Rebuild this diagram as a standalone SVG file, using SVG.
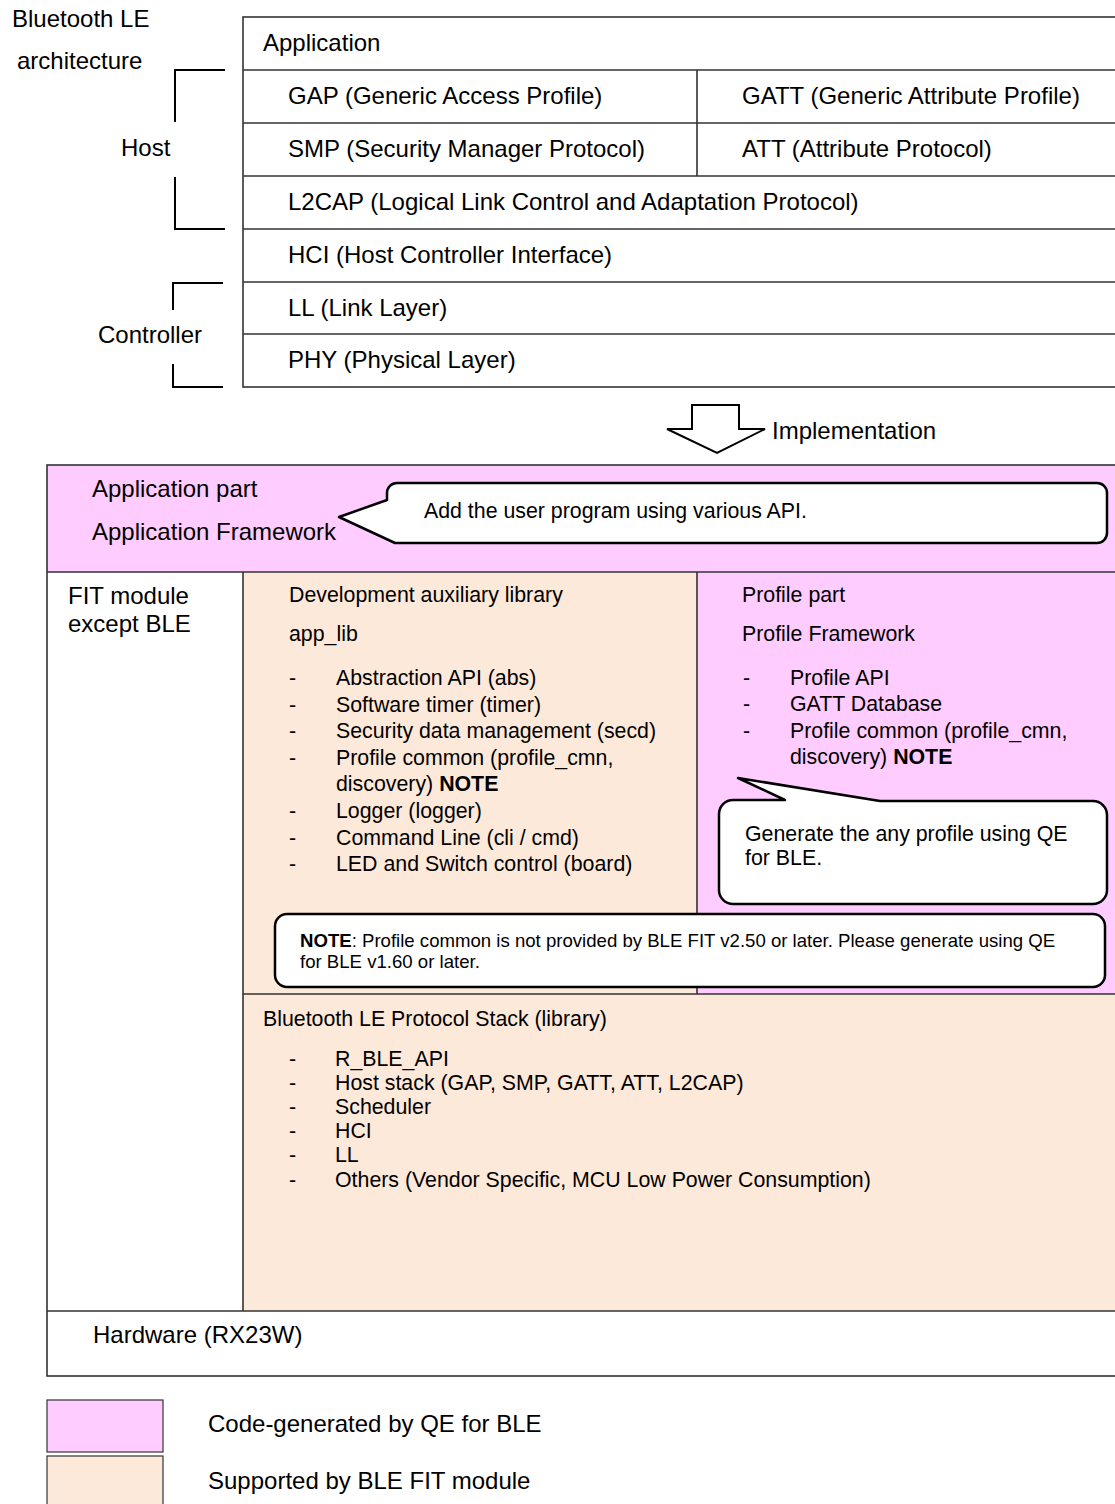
<svg xmlns="http://www.w3.org/2000/svg" width="1115" height="1504" viewBox="0 0 1115 1504">
  <style>
    text { font-family: "Liberation Sans", Arial, sans-serif; fill: #000; }
    .t24 { font-size: 24px; }
    .t21 { font-size: 21.33px; }
    .t16 { font-size: 18.6px; }
    .b { font-weight: bold; }
    .grid { fill: none; stroke: #333; stroke-width: 1.6; }
    .pink { fill: #FFCCFF; }
    .beige { fill: #FDE9D9; }
    .bubble { fill: #fff; stroke: #000; stroke-width: 2.5; stroke-linejoin: round; }
    .bracket { fill: none; stroke: #000; stroke-width: 2; }
    .legend { stroke: #333; stroke-width: 1.2; }
  </style>

  <rect width="1115" height="1504" fill="#fff"/>

  <!-- Title -->
  <g id="title">
    <text class="t24" x="12" y="27">Bluetooth LE</text>
    <text class="t24" x="17" y="69">architecture</text>
  </g>

  <!-- Layered architecture stack -->
  <g id="arch-stack">
    <rect class="grid" x="243" y="17" width="890" height="370" fill="#fff"/>
    <path class="grid" d="M243 70H1115M243 123H1115M243 176H1115M243 229H1115M243 282H1115M243 334H1115M697 70V176"/>
    <text class="t24" x="263" y="51">Application</text>
    <text class="t24" x="288" y="104">GAP (Generic Access Profile)</text>
    <text class="t24" x="742" y="104">GATT (Generic Attribute Profile)</text>
    <text class="t24" x="288" y="157">SMP (Security Manager Protocol)</text>
    <text class="t24" x="742" y="157">ATT (Attribute Protocol)</text>
    <text class="t24" x="288" y="210">L2CAP (Logical Link Control and Adaptation Protocol)</text>
    <text class="t24" x="288" y="263">HCI (Host Controller Interface)</text>
    <text class="t24" x="288" y="316">LL (Link Layer)</text>
    <text class="t24" x="288" y="368">PHY (Physical Layer)</text>
  </g>

  <g id="host-label">
    <text class="t24" x="121" y="156">Host</text>
  </g>
  <g id="controller-label">
    <text class="t24" x="98" y="343">Controller</text>
  </g>

  <!-- Brackets and the implementation arrow -->
  <g id="connectors">
    <path class="bracket" d="M225 70H175V122M175 177V229H225"/>
    <path class="bracket" d="M223 283H173V310M173 364V387H223"/>
    <path d="M692 405H739V429H765L717 453L667 429H692Z" fill="#fff" stroke="#000" stroke-width="2" stroke-linejoin="miter"/>
    <text class="t24" x="772" y="439">Implementation</text>
  </g>

  <!-- Implementation block -->
  <g id="impl-frame">
    <rect x="47" y="465" width="1080" height="911" fill="#fff"/>
    <rect class="pink" x="47" y="465" width="1080" height="107"/>
    <rect class="beige" x="243" y="572" width="454" height="422"/>
    <rect class="pink" x="697" y="572" width="430" height="422"/>
    <rect class="beige" x="243" y="994" width="884" height="317"/>
    <rect class="grid" x="47" y="465" width="1090" height="911"/>
    <path class="grid" d="M47 572H1115M243 572V1311M697 572V994M243 994H1115M47 1311H1115"/>
  </g>

  <g id="application-part">
    <text class="t24" x="92" y="497">Application part</text>
    <text class="t24" x="92" y="540">Application Framework</text>
  </g>

  <g id="fit-other">
    <text class="t24" x="68" y="604">FIT module</text>
    <text class="t24" x="68" y="632">except BLE</text>
  </g>

  <g id="dev-library">
    <text class="t21" x="289" y="602">Development auxiliary library</text>
    <text class="t21" x="289" y="641">app_lib</text>
    <g class="t21">
      <text x="289" y="685">-</text><text x="336" y="685">Abstraction API (abs)</text>
      <text x="289" y="712">-</text><text x="336" y="712">Software timer (timer)</text>
      <text x="289" y="738">-</text><text x="336" y="738">Security data management (secd)</text>
      <text x="289" y="765">-</text><text x="336" y="765">Profile common (profile_cmn,</text>
      <text x="336" y="791">discovery) <tspan class="b">NOTE</tspan></text>
      <text x="289" y="818">-</text><text x="336" y="818">Logger (logger)</text>
      <text x="289" y="845">-</text><text x="336" y="845">Command Line (cli / cmd)</text>
      <text x="289" y="871">-</text><text x="336" y="871">LED and Switch control (board)</text>
    </g>
  </g>

  <g id="profile-part">
    <text class="t21" x="742" y="602">Profile part</text>
    <text class="t21" x="742" y="641">Profile Framework</text>
    <g class="t21">
      <text x="743" y="685">-</text><text x="790" y="685">Profile API</text>
      <text x="743" y="711">-</text><text x="790" y="711">GATT Database</text>
      <text x="743" y="738">-</text><text x="790" y="738">Profile common (profile_cmn,</text>
      <text x="790" y="764">discovery) <tspan class="b">NOTE</tspan></text>
    </g>
  </g>

  <g id="protocol-stack">
    <text class="t21" x="263" y="1026">Bluetooth LE Protocol Stack (library)</text>
    <g class="t21">
      <text x="289" y="1066">-</text><text x="335" y="1066">R_BLE_API</text>
      <text x="289" y="1090">-</text><text x="335" y="1090">Host stack (GAP, SMP, GATT, ATT, L2CAP)</text>
      <text x="289" y="1114">-</text><text x="335" y="1114">Scheduler</text>
      <text x="289" y="1138">-</text><text x="335" y="1138">HCI</text>
      <text x="289" y="1162">-</text><text x="335" y="1162">LL</text>
      <text x="289" y="1187">-</text><text x="335" y="1187">Others (Vendor Specific, MCU Low Power Consumption)</text>
    </g>
  </g>

  <g id="hardware">
    <text class="t24" x="93" y="1343">Hardware (RX23W)</text>
  </g>

  <!-- Callouts -->
  <g id="callout-app">
    <path class="bubble" d="M397 483H1097A10 10 0 0 1 1107 493V533A10 10 0 0 1 1097 543H395L339 517L387 500V493A10 10 0 0 1 397 483Z"/>
    <text class="t21" x="424" y="518">Add the user program using various API.</text>
  </g>

  <g id="callout-profile">
    <path class="bubble" d="M733 800H785L738 778L880 801H1093A14 14 0 0 1 1107 815V890A14 14 0 0 1 1093 904H733A14 14 0 0 1 719 890V814A14 14 0 0 1 733 800Z"/>
    <text class="t21" x="745" y="841">Generate the any profile using QE</text>
    <text class="t21" x="745" y="865">for BLE.</text>
  </g>

  <g id="note">
    <rect class="bubble" x="275" y="914" width="830" height="73" rx="12"/>
    <text class="t16" x="300" y="947"><tspan class="b">NOTE</tspan>: Profile common is not provided by BLE FIT v2.50 or later. Please generate using QE</text>
    <text class="t16" x="300" y="968">for BLE v1.60 or later.</text>
  </g>

  <!-- Legend -->
  <g id="legend-generated">
    <rect class="pink legend" x="47" y="1400" width="116" height="52"/>
    <text class="t24" x="208" y="1432">Code-generated by QE for BLE</text>
  </g>
  <g id="legend-supported">
    <rect class="beige legend" x="47" y="1456" width="116" height="52"/>
    <text class="t24" x="208" y="1489">Supported by BLE FIT module</text>
  </g>
</svg>
